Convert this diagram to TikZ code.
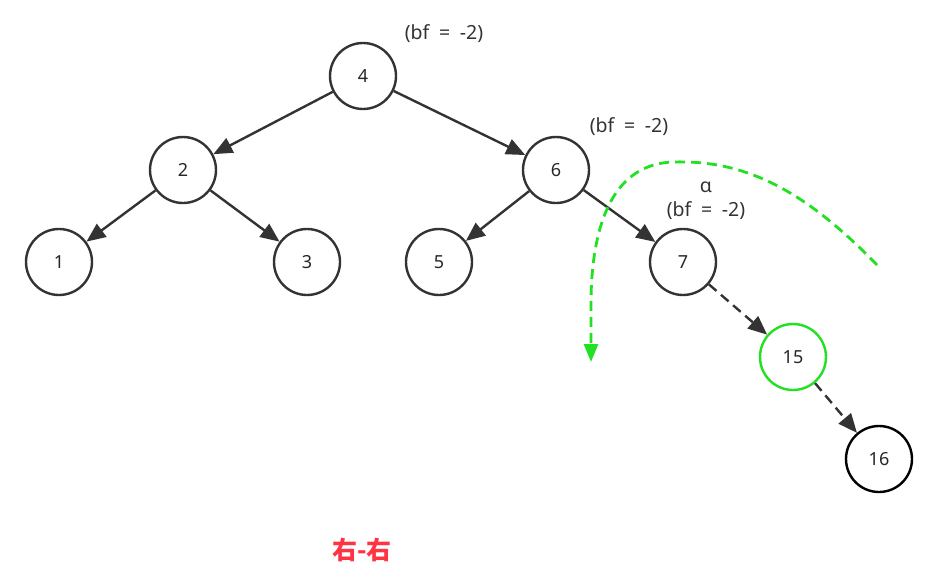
\documentclass[tikz,border=0pt]{standalone}
\usepackage{fontspec}
\setmainfont{Noto Sans}
\newfontfamily\cjk{Noto Sans CJK SC}
\usetikzlibrary{arrows.meta}
\definecolor{edgegray}{HTML}{333333}
\definecolor{nodegreen}{HTML}{22E022}
\definecolor{labred}{HTML}{FF3344}
\tikzset{
  tnode/.style={circle, draw=edgegray, line width=2.4pt, minimum size=66pt, inner sep=0pt, font=\fontsize{18}{22}\selectfont, text=black!85},
  tedge/.style={draw=edgegray, line width=2.4pt, -{Triangle[length=19pt,width=16pt]}},
  dedge/.style={tedge, dash pattern=on 10pt off 6pt},
  lbl/.style={font=\fontsize{19.5}{23}\selectfont, text=black!80, inner sep=0pt},
}
\newcommand{\bfl}{(bf\hspace{0.5em}=\hspace{0.5em}-2)}
\begin{document}
\begin{tikzpicture}[x=1pt,y=-1pt]
\useasboundingbox (0,0) rectangle (930,579);
\node[tnode] (n4) at (363,76) {4};
\node[tnode] (n2) at (183,170) {2};
\node[tnode] (n6) at (556,170) {6};
\node[tnode] (n1) at (59,262) {1};
\node[tnode] (n3) at (307,262) {3};
\node[tnode] (n5) at (439,262) {5};
\node[tnode] (n7) at (683,262) {7};
\node[tnode, draw=nodegreen] (n15) at (793,357) {15};
\node[tnode, draw=black] (n16) at (879,459) {16};

\draw[tedge] (n4) -- (n2);
\draw[tedge] (n4) -- (n6);
\draw[tedge] (n2) -- (n1);
\draw[tedge] (n2) -- (n3);
\draw[tedge] (n6) -- (n5);
\draw[tedge] (n6) -- (n7);
\draw[dedge] (n7) -- (n15);
\draw[dedge] (n15) -- (n16);

\node[lbl] (b4) at (444,34) {\bfl};
\node[lbl] (b6) at (629,127) {\bfl};
\node[lbl] (alpha) at (706,187) {α};
\node[lbl] (b7) at (706,211) {\bfl};

\coordinate (gs) at (877,265);
\coordinate (gtop) at (673,162);
\coordinate (ge) at (591,362);
\draw[draw=nodegreen, line width=2.8pt, dash pattern=on 10pt off 6pt, -{Triangle[length=18pt,width=14pt]}]
  (gs) .. controls (800,185) and (740,160) .. (gtop)
  .. controls (615,164) and (592,220) .. (591,300) -- (ge);

\node[font=\cjk\bfseries\fontsize{25}{30}\selectfont, text=labred] (title) at (362,550) {右-右};
\end{tikzpicture}
\end{document}
